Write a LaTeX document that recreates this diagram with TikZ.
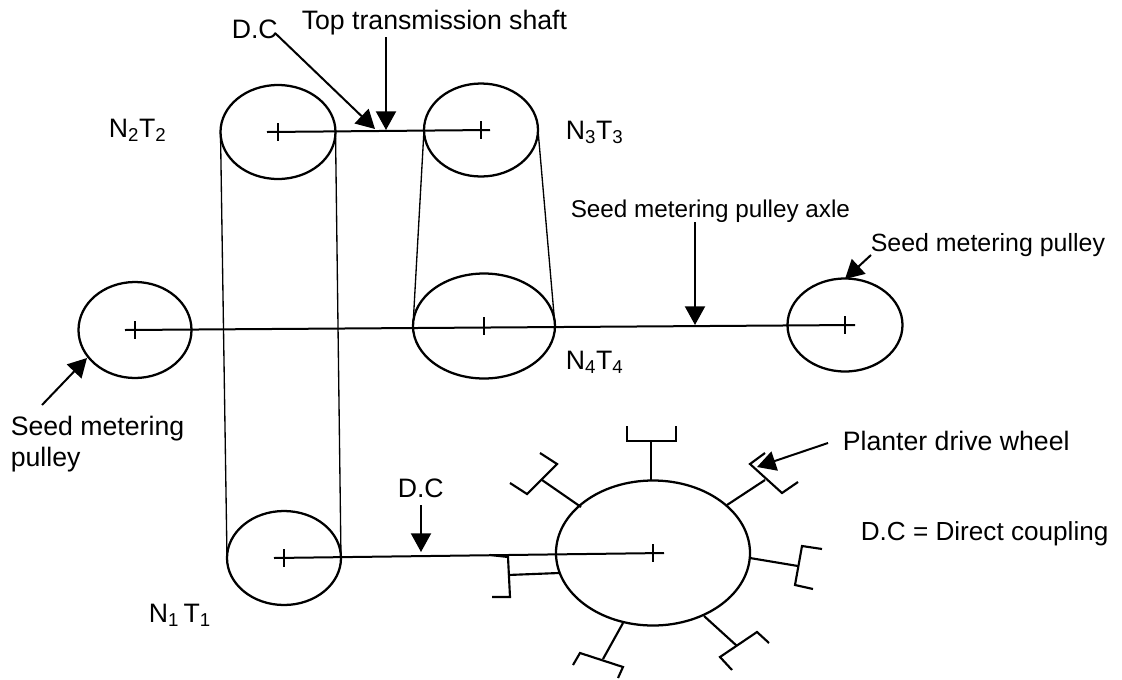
\documentclass[tikz,border=0pt]{standalone}
\usepackage{fontspec}
\setmainfont{Liberation Sans}
\usetikzlibrary{arrows.meta,calc,positioning,shapes.geometric}
\tikzset{
	pulley/.style 2 args={draw, ellipse, line width=1.7pt, inner sep=0, outer sep=0, minimum width=#1*0.75pt, minimum height=#2*0.75pt},
	lab/.style={inner sep=0, anchor=west, font=\fontsize{20}{23}\selectfont, align=left},
	shaft/.style={line width=1.5pt},
	belt/.style={line width=1pt},
	pointer/.style={line width=1.5pt, -{Triangle[length=14pt,width=15pt]}},
	lug/.style={line width=1.6pt}
}
\newcommand{\tickmark}[1]{\draw[shaft] ($(#1.center)+(0,-9)$) -- ($(#1.center)+(0,9)$);}
\begin{document}
\begin{tikzpicture}[x=0.75pt,y=-0.75pt,line width=1.2pt]
	\useasboundingbox (0,0) rectangle (1122,679);
	\node[pulley={115}{94}] (n2t2) at (278, 132) {};
	\node[pulley={114}{93}] (n3t3) at (481, 130) {};
	\node[pulley={142}{105}] (n4t4) at (484, 326) {};
	\node[pulley={114}{94}] (n1t1) at (284, 558) {};
	\node[pulley={113}{96}] (leftp) at (135, 330) {};
	\node[pulley={115}{93}] (rightp) at (845, 325) {};
	\node[pulley={194}{145}] (wheel) at (653, 553) {};

	\draw[belt] (n2t2.west) -- (n1t1.west);
	\draw[belt] (n2t2.east) -- (n1t1.east);
	\draw[belt] (n3t3.west) -- (n4t4.west);
	\draw[belt] (n3t3.east) -- (n4t4.east);

	\draw[shaft] ($(n2t2.center)+(-11,0)$) -- ($(n3t3.center)+(9,0)$);
	\draw[shaft] ($(leftp.center)+(-10,0)$) -- ($(rightp.center)+(10,0)$);
	\draw[shaft] ($(n1t1.center)+(-10,0)$) -- ($(wheel.center)+(11,0)$);
	\foreach \n in {n2t2,n3t3,n4t4,n1t1,leftp,rightp,wheel} {\tickmark{\n}}

	% lugs on the drive wheel
	\foreach \sa/\sb/\ba/\bb in {
		651/480/651/441,
		581/507/542/480,
		727/505/765/480,
		750/558/798/566,
		704/616/737/646,
		623/623/603/659,
		559/573/508/575}
		\draw[lug] (\sa,\sb) -- (\ba,\bb);
	\draw[lug] (627,426) -- (627,441) -- (676,441) -- (676,426);
	\draw[lug] (540,453) -- (557,464) -- (527,494) -- (510,483);
	\draw[lug] (765,453) -- (750,464) -- (782,493) -- (798,482);
	\draw[lug] (822,549) -- (802,546) -- (795,585) -- (813,589);
	\draw[lug] (769,643) -- (757,632) -- (720,657) -- (732,670);
	\draw[lug] (573,665) -- (580,653) -- (623,667) -- (618,678);
	\draw[lug] (490,555) -- (508,557) -- (510,597) -- (492,597);

	\node[lab] (dctop) at (231, 29) {D.C};
	\node[lab] (topshaft) at (301, 23) {Top transmission shaft};
	\node[lab] (l2) at (108, 130) {N\textsubscript{2}T\textsubscript{2}};
	\node[lab] (l3) at (565, 132) {N\textsubscript{3}T\textsubscript{3}};
	\node[lab] (l4) at (565, 362) {N\textsubscript{4}T\textsubscript{4}};
	\node[lab] (l1) at (148, 615) {N\textsubscript{1}\,T\textsubscript{1}};
	\node[lab, font=\fontsize{18.2}{21}\selectfont] (axle) at (570, 211) {Seed metering pulley axle};
	\node[lab, font=\fontsize{18.7}{21}\selectfont] (seedr) at (870, 245) {Seed metering pulley};
	\node[lab] (seedl) at (10, 444) {Seed metering\\pulley};
	\node[lab] (dclow) at (397, 488) {D.C};
	\node[lab] (drive) at (842, 441) {Planter drive wheel};
	\node[lab, font=\fontsize{19.6}{23}\selectfont] (legend) at (860, 534) {D.C = Direct coupling};

	\coordinate (dcstart) at (275, 33);
	\coordinate (dctip) at (375, 129);
	\coordinate (shaftstart) at (386, 37);
	\coordinate (shafttip) at (386, 130);
	\coordinate (axlestart) at (695, 222);
	\coordinate (axletip) at (695, 325);
	\coordinate (seedrstart) at (871, 255);
	\coordinate (seedrtip) at (845, 279);
	\coordinate (seedlstart) at (42, 405);
	\coordinate (seedltip) at (87, 358);
	\coordinate (dclowstart) at (421, 505);
	\coordinate (dclowtip) at (421, 552);
	\coordinate (drivestart) at (828, 443);
	\coordinate (drivetip) at (757, 467);

	\draw[pointer] (dcstart) -- (dctip);
	\draw[pointer] (shaftstart) -- (shafttip);
	\draw[pointer] (axlestart) -- (axletip);
	\draw[pointer] (seedrstart) -- (seedrtip);
	\draw[pointer] (seedlstart) -- (seedltip);
	\draw[pointer] (dclowstart) -- (dclowtip);
	\draw[pointer] (drivestart) -- (drivetip);
\end{tikzpicture}
\end{document}
